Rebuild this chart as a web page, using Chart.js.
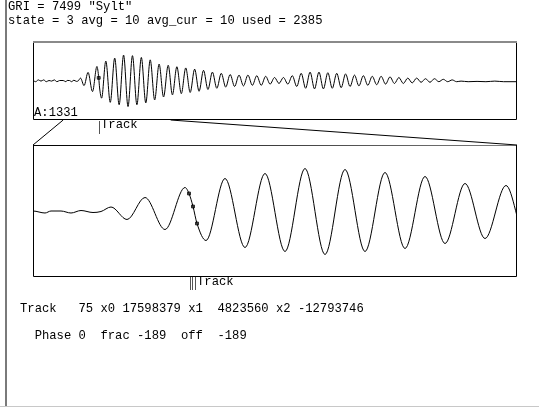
<!DOCTYPE html>
<html>
<head>
<meta charset="utf-8">
<script src="https://cdn.jsdelivr.net/npm/chart.js@4.4.0/dist/chart.umd.min.js"></script>
<style>
  html, body { margin: 0; padding: 0; background: #fff; }
  #page { position: relative; width: 539px; height: 407px; overflow: hidden; }
  .txt { position: absolute; font-family: "Liberation Mono", monospace; font-size: 12.2px; line-height: 12px; white-space: pre; color: #000; }
  .panel { position: absolute; }
</style>
</head>
<body>
<div id="page">
  <div style="position:absolute;left:5px;top:0;width:2px;height:406px;background:#7a7a7a"></div>
  <div style="position:absolute;left:0;top:406px;width:539px;height:1px;background:#c8c8c8"></div>

  <div class="panel" style="left:33px;top:41px;width:484px;height:79px"><canvas id="topChart" width="484" height="79"></canvas></div>
  <div class="panel" style="left:33px;top:145px;width:484px;height:132px"><canvas id="zoomChart" width="484" height="132"></canvas></div>
  <canvas id="overlay" width="539" height="407" style="position:absolute;left:0;top:0;pointer-events:none"></canvas>

  <div class="txt" style="left:8px;top:1px">GRI = 7499 "Sylt"</div>
  <div class="txt" style="left:8px;top:15px">state = 3 avg = 10 avg_cur = 10 used = 2385</div>
  <div class="txt" style="left:34px;top:107px">A:1331</div>
  <div class="txt" style="left:101px;top:119px">Track</div>
  <div class="txt" style="left:197px;top:276px">Track</div>
  <div class="txt" style="left:20px;top:303px">Track   75 x0 17598379 x1  4823560 x2 -12793746</div>
  <div class="txt" style="left:20px;top:330px">  Phase 0  frac -189  off  -189</div>
</div>

<script>
// sample positions and signal values of the received pulse
const times = [
  0, 3, 6, 9, 12, 15, 18, 21, 24, 27, 30, 34, 37, 38.5, 41, 43.5, 46, 49, 51, 53.5, 57.5,
  62, 67, 72, 73, 74, 75, 77.25, 82, 87, 92, 97, 102, 107, 112, 117, 122, 127, 132, 137, 142, 147, 152.25,
  157, 162, 167, 172, 177, 182, 187, 192, 197, 202, 207, 212, 217, 222, 227, 232, 237, 242, 247, 252,
  257, 262, 267, 272, 277, 282, 287, 292, 297, 302, 307, 312, 317, 322, 327, 332, 337, 342, 347, 352,
  357, 362, 367, 372, 377, 382, 387, 392, 397, 402, 407, 412, 417, 422, 427, 432, 437, 442, 447, 452,
  457, 462, 467, 472, 477, 482, 490, 500, 510, 520, 530, 545
];
const signal = [
  0, -2, 1, -1, 1, -2, 0, -1, 1, -2, 0, 0, -2, 0, 0, -2, 0.5, -1.5, -0.5, 4, -8.5,
  13.5, -18.5, 23.5, 17.5, 4.5, -12.5, -29.5, 32.5, -36.5, 37.5, -40.5, 42.5, -43.5, 41.5, -40.5, 38.5, -37.5, 34.5, -32.5, 27.5, -27.5, 25.5,
  -24, 23, -22, 21, -20, 19, -18, 17, -15, 14, -13, 12, -11, 10, -10, 9, -9, 9, -8, 8,
  -8, 7, -6, 5, -5, 5, -6, 8, -10, 12, -13, 14, -14, 14, -14, 13, -13, 12, -12, 11,
  -10, 9, -9, 8, -8, 7, -7, 7, -6, 6, -5, 5, -5, 4, -4, 4, -3, 3, -3, 3,
  -2, 2, -2, 1, -2, -1, -2, -1.5, -2, -1, -2, -2
];
// tracking samples
const trackTimes = [73, 74, 75];
const trackValues = [17.5, 4.5, -12.5];
const topTrackTime = 74;
const trackBars = [73.25, 73.85, 74.45];

const fullRange = [0, 545];
const zoomRange = [34, 155];
const yRange = [-66, 66];

const points = times.map((t, i) => ({ x: t, y: signal[i] }));

const framePlugin = {
  id: 'frame',
  afterDraw(chart, args, opts) {
    const { ctx, chartArea: a } = chart;
    ctx.save();
    ctx.lineWidth = 1;
    ctx.strokeStyle = '#000';
    ctx.beginPath();
    ctx.moveTo(a.left + 0.5, a.top);
    ctx.lineTo(a.left + 0.5, a.bottom - 0.5);
    ctx.lineTo(a.right - 0.5, a.bottom - 0.5);
    ctx.lineTo(a.right - 0.5, a.top);
    if (!opts.grayTop) ctx.lineTo(a.left + 0.5, a.top + 0.5);
    ctx.stroke();
    if (opts.grayTop) {
      ctx.fillStyle = '#8a8a8a';
      ctx.fillRect(a.left, a.top, a.right - a.left, 2);
    }
    ctx.restore();
  }
};

function makeChart(id, range, markers, grayTop) {
  return new Chart(document.getElementById(id), {
    type: 'line',
    data: {
      datasets: [
        {
          data: points,
          borderColor: '#000',
          borderWidth: 1,
          pointRadius: 0,
          cubicInterpolationMode: 'monotone',
          fill: false
        },
        {
          data: markers,
          showLine: false,
          pointStyle: 'rect',
          pointRadius: 2,
          backgroundColor: '#666',
          borderColor: '#222',
          borderWidth: 1
        }
      ]
    },
    options: {
      responsive: false,
      animation: false,
      events: [],
      layout: { padding: 0, autoPadding: false },
      plugins: { legend: { display: false }, tooltip: { enabled: false }, frame: { grayTop } },
      scales: {
        x: { type: 'linear', min: range[0], max: range[1], display: false },
        y: { type: 'linear', min: yRange[0], max: yRange[1], display: false }
      }
    },
    plugins: [framePlugin]
  });
}

const topChart = makeChart('topChart', fullRange, [{ x: topTrackTime, y: trackValues[1] }], true);
const zoomChart = makeChart('zoomChart', zoomRange,
  trackTimes.map((t, i) => ({ x: t, y: trackValues[i] })), false);

// connector lines and track bars drawn with the charts' own scales
const ov = document.getElementById('overlay').getContext('2d');
const topLeft = 33, topTop = 41, zoomTop = 145;
const tx = topChart.scales.x, zx = zoomChart.scales.x;
const topBottom = topTop + topChart.chartArea.bottom;
const zArea = zoomChart.chartArea;

ov.strokeStyle = '#000';
ov.lineWidth = 1;
ov.beginPath();
ov.moveTo(topLeft + tx.getPixelForValue(zoomRange[0]), topBottom);
ov.lineTo(topLeft + zArea.left, zoomTop);
ov.moveTo(topLeft + tx.getPixelForValue(zoomRange[1]), topBottom);
ov.lineTo(topLeft + zArea.right, zoomTop);
ov.stroke();

ov.strokeStyle = '#555';
ov.beginPath();
const tp = Math.round(topLeft + tx.getPixelForValue(topTrackTime)) + 0.5;
ov.moveTo(tp, topBottom + 1);
ov.lineTo(tp, topBottom + 14);
trackBars.forEach(t => {
  const p = Math.round(topLeft + zx.getPixelForValue(t)) + 0.5;
  ov.moveTo(p, zoomTop + zArea.bottom);
  ov.lineTo(p, zoomTop + zArea.bottom + 13);
});
ov.stroke();
</script>
</body>
</html>
